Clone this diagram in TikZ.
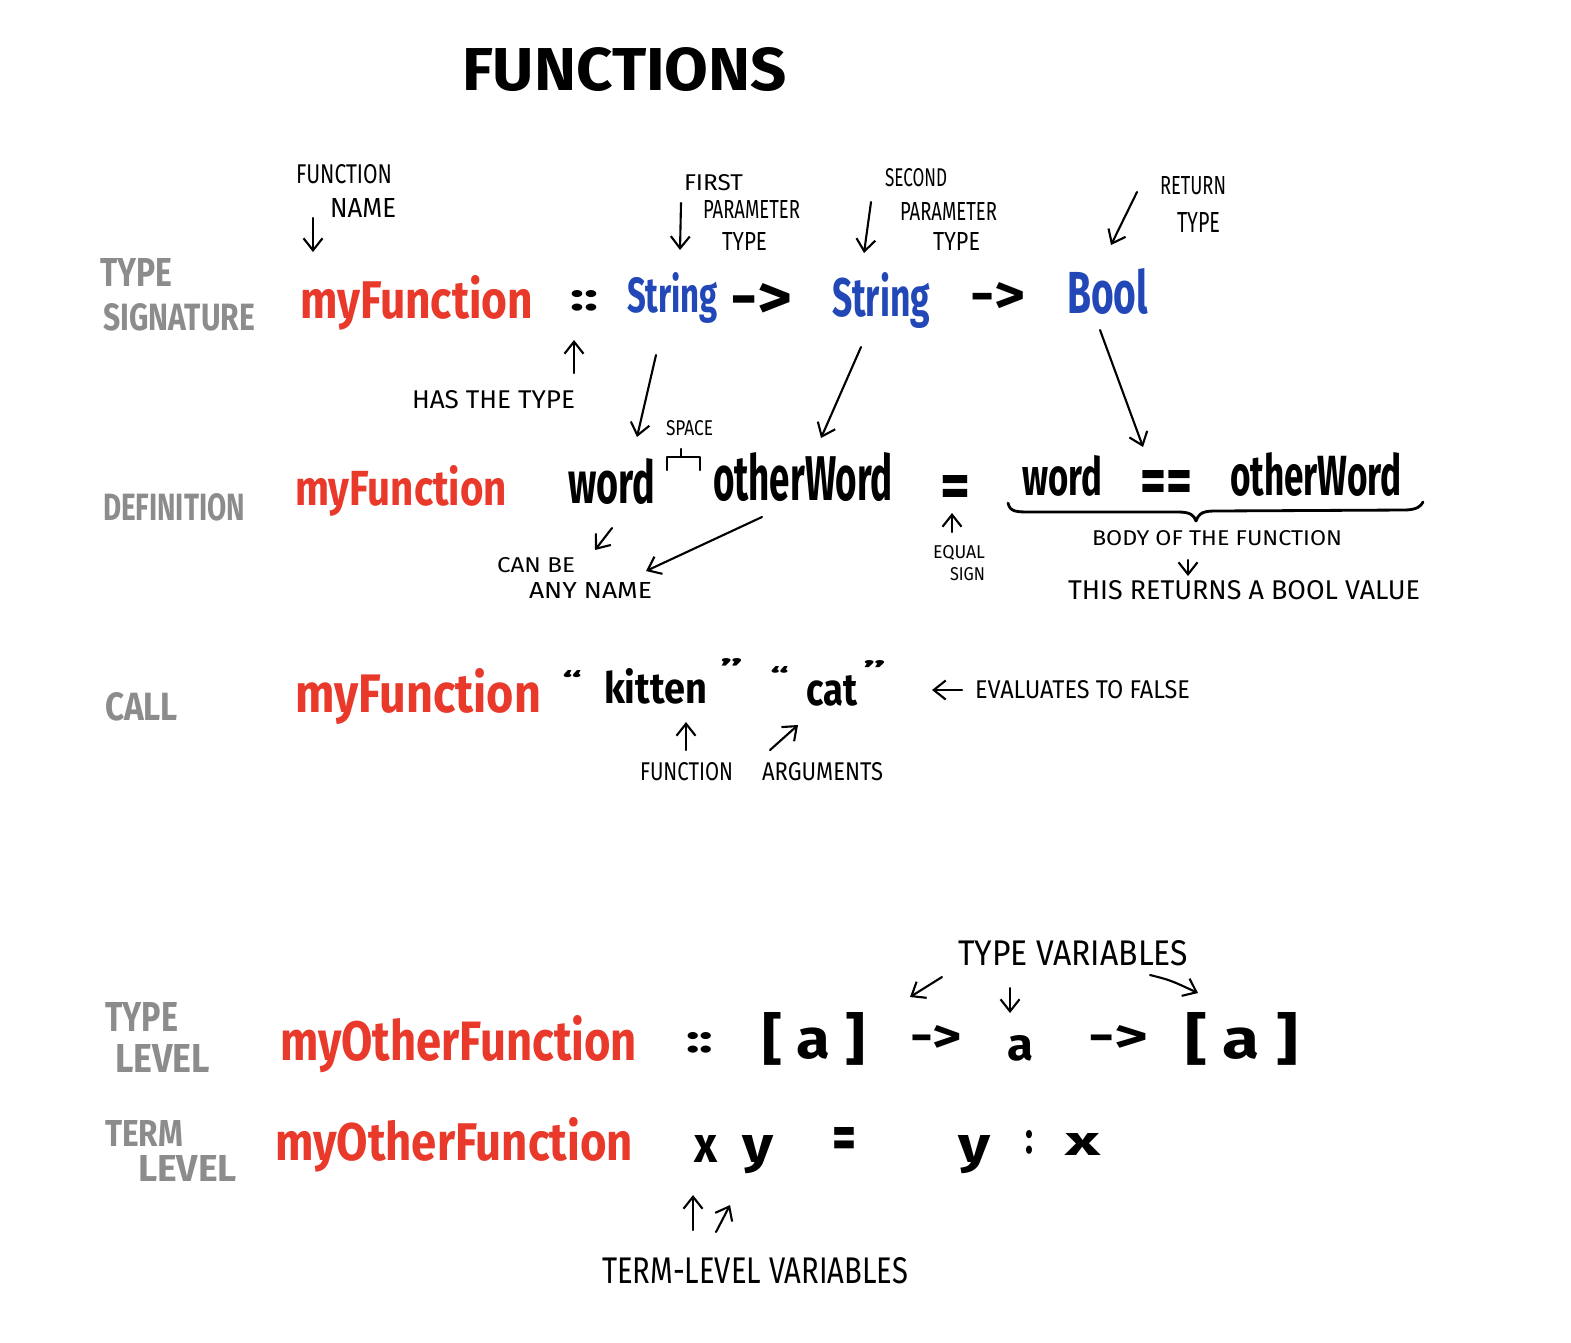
\documentclass[tikz,border=0pt]{standalone}
\usepackage{fontspec}
\setmainfont{Fira Sans}
\usepackage{graphicx}
\usetikzlibrary{arrows.meta}
\definecolor{hred}{HTML}{E8392B}
\definecolor{hblue}{HTML}{2248B8}
\definecolor{hgray}{HTML}{8C8C8C}
\newlength\pxu \setlength\pxu{0.01cm}
\newcommand\T[3]{\resizebox{#1\pxu}{#2\pxu}{#3}}
\begin{document}
\begin{tikzpicture}[x=0.01cm,y=-0.01cm,
  every node/.style={inner sep=0pt, outer sep=0pt, anchor=base west},
  code/.style={font=\bfseries},
  fn/.style={code, text=hred},
  ty/.style={code, text=hblue},
  sym/.style={code, text=black},
  side/.style={font=\bfseries, text=hgray},
  lab/.style={font=\normalfont, text=black},
  ann/.style={draw=black, line width=0.6pt, line cap=round, line join=round, -{Straight Barb[length=1.2mm,width=1.9mm]}},
  hand/.style={draw=black, line width=0.7pt, line cap=round, line join=round}]
\useasboundingbox (0,0) rectangle (1571,1342);
\fill[white] (0,0) rectangle (1571,1342);

% title
\node[font=\bfseries] (title) at (462,90) {\T{325}{43}{FUNCTIONS}};

% side labels
\node[side] (sTYPE) at (100,286) {\T{72}{28}{TYPE}};
\node[side] (sSIG) at (103,330) {\T{152}{27}{SIGNATURE}};
\node[side] (sDEF) at (103,520) {\T{142}{27}{DEFINITION}};
\node[side] (sCALL) at (105,720) {\T{73}{28}{CALL}};
\node[side] (sTL1) at (105,1031) {\T{73}{29}{TYPE}};
\node[side] (sTL2) at (115,1072) {\T{95}{28}{LEVEL}};
\node[side] (sTM1) at (105,1146) {\T{78}{26}{TERM}};
\node[side] (sTM2) at (138,1181) {\T{99}{26}{LEVEL}};

% row 1: type signature
\node[fn] (f1) at (300,318) {\T{233}{43}{myFunction}};
\node[sym] (c1) at (570,310) {\T{28}{20}{::}};
\node[ty] (s1) at (627,312) {\T{91}{40}{String}};
\node[sym,anchor=north west] (ar1) at (730,283) {\T{62}{35}{->}};
\node[ty] (s2) at (832,316) {\T{98}{44}{String}};
\node[sym,anchor=north west] (ar2) at (970,282) {\T{55}{31}{->}};
\node[ty] (b1) at (1067,313) {\T{81}{45}{Bool}};

\node[lab] (lFN) at (296,183) {\T{96}{19}{FUNCTION}};
\node[lab] (lNAME) at (330,217) {\T{66}{19}{NAME}};
\node[lab] (lFIRST) at (684,190) {\T{59}{16}{FIRST}};
\node[lab] (lPAR1) at (703,218) {\T{97}{18}{PARAMETER}};
\node[lab] (lTY1) at (722,250) {\T{45}{18}{TYPE}};
\node[lab] (lSEC) at (885,186) {\T{62}{18}{SECOND}};
\node[lab] (lPAR2) at (900,220) {\T{97}{18}{PARAMETER}};
\node[lab] (lTY2) at (933,250) {\T{47}{18}{TYPE}};
\node[lab] (lRET) at (1160,194) {\T{66}{18}{RETURN}};
\node[lab] (lTY3) at (1177,232) {\T{43}{20}{TYPE}};
\node[lab] (lHAS) at (412,408) {\T{163}{18}{HAS THE TYPE}};

\coordinate (a1s) at (313,218); \coordinate (a1e) at (313,252);
\coordinate (a2s) at (681,203); \coordinate (a2e) at (680,250);
\coordinate (a3s) at (871,202); \coordinate (a3e) at (864,253);
\coordinate (a4s) at (1137,192); \coordinate (a4e) at (1111,245);
\coordinate (a5s) at (574,373); \coordinate (a5e) at (574,340);
\coordinate (a6s) at (656,355); \coordinate (a6e) at (637,437);
\coordinate (a7s) at (861,347); \coordinate (a7e) at (821,438);
\coordinate (a8s) at (1100,330); \coordinate (a8e) at (1143,447);
\foreach \i in {1,...,8} \draw[ann] (a\i s) -- (a\i e);

% row 2: definition
\node[fn] (f2) at (295,505) {\T{212}{40}{myFunction}};
\node[sym] (w1) at (568,503) {\T{87}{45}{word}};
\node[lab] (lSP) at (666,435) {\T{47}{15}{SPACE}};
\coordinate (sp1) at (667,470); \coordinate (sp2) at (667,457);
\coordinate (sp3) at (700,457); \coordinate (sp4) at (700,470);
\coordinate (sp5) at (681,457); \coordinate (sp6) at (681,449);
\draw[hand] (sp1) -- (sp2) -- (sp3) -- (sp4);
\draw[hand] (sp5) -- (sp6);
\node[sym] (ow1) at (713,500) {\T{180}{48}{otherWord}};
\node[sym,anchor=north west] (eq1) at (940,475) {\T{30}{33}{=}};
\node[sym] (w2) at (1022,495) {\T{80}{40}{word}};
\node[sym,anchor=north west] (eq2) at (1140,470) {\T{52}{33}{==}};
\node[sym] (ow2) at (1230,495) {\T{172}{43}{otherWord}};
\coordinate (brL) at (1008,503); \coordinate (brT) at (1196,521); \coordinate (brR) at (1423,502);
\draw[hand, line width=0.8pt] (brL) .. controls (1010,512) and (1016,512) .. (1032,512)
  -- (1178,512) .. controls (1190,512) and (1194,515) .. (brT)
  .. controls (1198,515) and (1201,511) .. (1214,511)
  -- (1404,510) .. controls (1417,510) and (1421,506) .. (brR);
\node[lab] (lBODY) at (1092,545) {\T{250}{15}{BODY OF THE FUNCTION}};
\node[lab] (lRETS) at (1068,599) {\T{352}{19}{THIS RETURNS A BOOL VALUE}};
\node[lab] (lEQ) at (933,558) {\T{52}{13}{EQUAL}};
\node[lab] (lSIGN) at (950,580) {\T{35}{13}{SIGN}};
\node[lab] (lCAN) at (497,572) {\T{78}{15}{CAN BE}};
\node[lab] (lANY) at (529,598) {\T{123}{16}{ANY NAME}};

\coordinate (b1s) at (1188,560); \coordinate (b1e) at (1188,576);
\coordinate (b2s) at (952,532); \coordinate (b2e) at (952,513);
\coordinate (b3s) at (612,528); \coordinate (b3e) at (595,550);
\coordinate (b4s) at (762,517); \coordinate (b4e) at (646,571);
\foreach \i in {1,...,4} \draw[ann] (b\i s) -- (b\i e);

% row 3: call
\node[fn] (f3) at (295,712) {\T{246}{44}{myFunction}};
\node[sym,anchor=north west] (q1) at (562,670) {\T{20}{18}{“}};
\node[sym] (kit) at (604,703) {\T{103}{35}{kitten}};
\node[sym,anchor=north west] (q2) at (720,658) {\T{23}{19}{”}};
\node[sym,anchor=north west] (q3) at (770,666) {\T{19}{17}{“}};
\node[sym] (cat) at (806,705) {\T{51}{30}{cat}};
\node[sym,anchor=north west] (q4) at (863,660) {\T{23}{18}{”}};
\node[lab] (lEVAL) at (975,698) {\T{215}{18}{EVALUATES TO FALSE}};
\node[lab] (lFUN) at (640,780) {\T{93}{18}{FUNCTION}};
\node[lab] (lARG) at (762,780) {\T{121}{18}{ARGUMENTS}};

\coordinate (c1s) at (962,690); \coordinate (c1e) at (932,690);
\coordinate (c2s) at (686,750); \coordinate (c2e) at (686,722);
\coordinate (c3s) at (770,750); \coordinate (c3e) at (798,725);
\foreach \i in {1,...,3} \draw[ann] (c\i s) -- (c\i e);

% row 4: type level
\node[fn] (f4) at (280,1060) {\T{357}{45}{myOtherFunction}};
\node[sym] (c4) at (686,1052) {\T{27}{20}{::}};
\node[sym,anchor=north west] (la1) at (762,1012) {\T{103}{46}{[ a ]}};
\node[sym,anchor=north west] (ar3) at (910,1025) {\T{52}{27}{->}};
\node[sym] (a4) at (1007,1060) {\T{26}{25}{a}};
\node[sym,anchor=north west] (ar4) at (1088,1025) {\T{60}{27}{->}};
\node[sym,anchor=north west] (la2) at (1185,1012) {\T{113}{46}{[ a ]}};
\node[lab] (lTV) at (958,965) {\T{230}{25}{TYPE VARIABLES}};

\coordinate (d1s) at (942,977); \coordinate (d1e) at (910,997);
\coordinate (d2s) at (1010,988); \coordinate (d2e) at (1010,1013);
\coordinate (d3s) at (1150,975); \coordinate (d3e) at (1198,993);
\draw[ann] (d1s) -- (d1e);
\draw[ann] (d2s) -- (d2e);
\draw[ann] (d3s) .. controls (1170,980) .. (d3e);

% row 5: term level
\node[fn] (f5) at (275,1160) {\T{358}{43}{myOtherFunction}};
\node[sym] (x1) at (694,1162) {\T{23}{27}{x}};
\node[sym] (y1) at (742,1162) {\T{31}{27}{y}};
\node[sym,anchor=north west] (eq5) at (832,1127) {\T{24}{32}{=}};
\node[sym] (y2) at (958,1162) {\T{32}{27}{y}};
\node[sym] (col5) at (1025,1153) {\T{8}{23}{:}};
\node[sym] (x2) at (1065,1155) {\T{35}{22}{x}};
\node[lab] (lTLV) at (602,1283) {\T{306}{26}{TERM-LEVEL VARIABLES}};

\coordinate (e1s) at (693,1230); \coordinate (e1e) at (693,1195);
\coordinate (e2s) at (716,1232); \coordinate (e2e) at (730,1205);
\draw[ann] (e1s) -- (e1e);
\draw[ann] (e2s) -- (e2e);
\end{tikzpicture}
\end{document}
